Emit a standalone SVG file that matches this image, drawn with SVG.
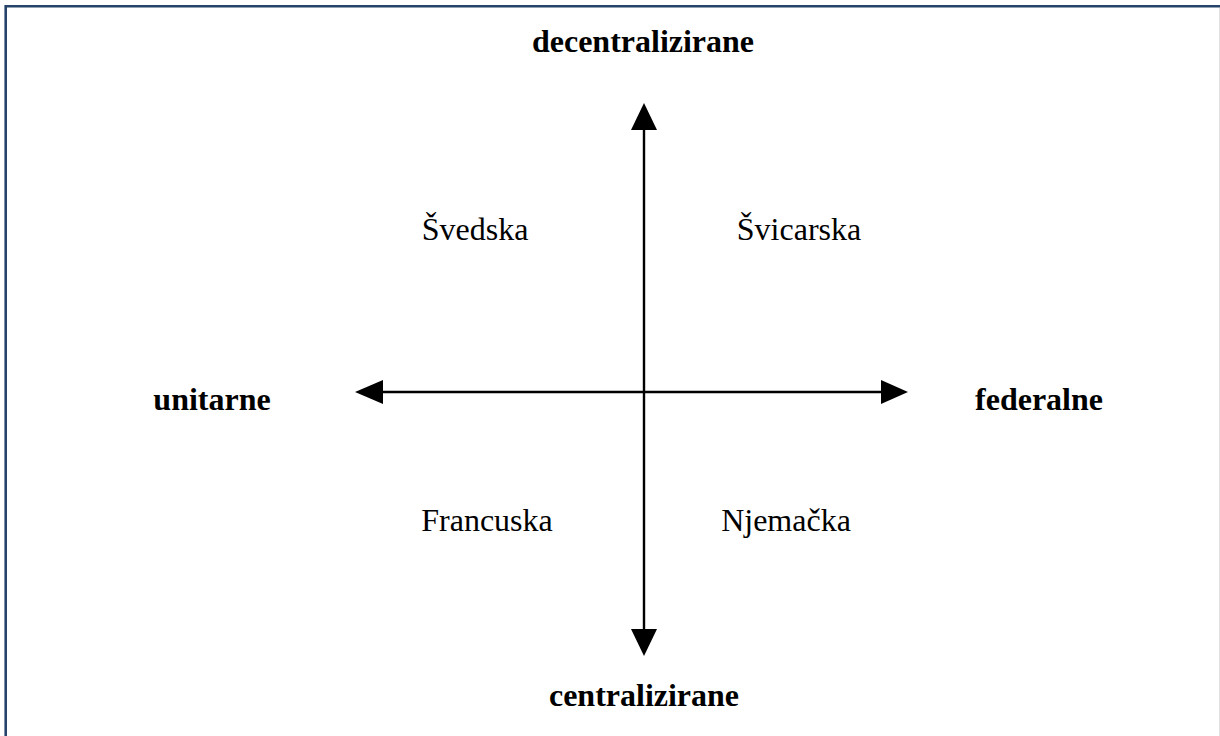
<svg xmlns="http://www.w3.org/2000/svg" width="1220" height="736" viewBox="0 0 1220 736">
<style>
text{font-family:"Liberation Serif","Times New Roman",serif;font-size:32px;fill:#000;text-anchor:middle}
.b{font-weight:bold}
.ax{stroke:#000;stroke-width:2.4;fill:none}
.hd{fill:#000}
</style>
<rect width="1220" height="736" fill="#fff"/>
<path d="M5.7,736 V6.3 H1220" fill="none" stroke="#26436a" stroke-width="2.6"/>
<line x1="1219.5" y1="8" x2="1219.5" y2="736" stroke="#e0e0e0" stroke-width="1"/>
<g id="connectors">
<line class="ax" x1="644" y1="128" x2="644" y2="632"/>
<line class="ax" x1="380" y1="392" x2="884" y2="392"/>
<polygon class="hd" points="644,103 631,130 657,130"/>
<polygon class="hd" points="644,656 631,629 657,629"/>
<polygon class="hd" points="355,392 383,380 383,404"/>
<polygon class="hd" points="908,392 881,380 881,404"/>
</g>
<g id="decentralizirane"><text class="b" x="643" y="52">decentralizirane</text></g>
<g id="centralizirane"><text class="b" x="644" y="706">centralizirane</text></g>
<g id="unitarne"><text class="b" x="212" y="410">unitarne</text></g>
<g id="federalne"><text class="b" x="1039" y="410">federalne</text></g>
<g id="svedska"><text x="475" y="240">Švedska</text></g>
<g id="svicarska"><text x="799" y="240">Švicarska</text></g>
<g id="francuska"><text x="487" y="531">Francuska</text></g>
<g id="njemacka"><text x="786" y="531">Njemačka</text></g>
</svg>
